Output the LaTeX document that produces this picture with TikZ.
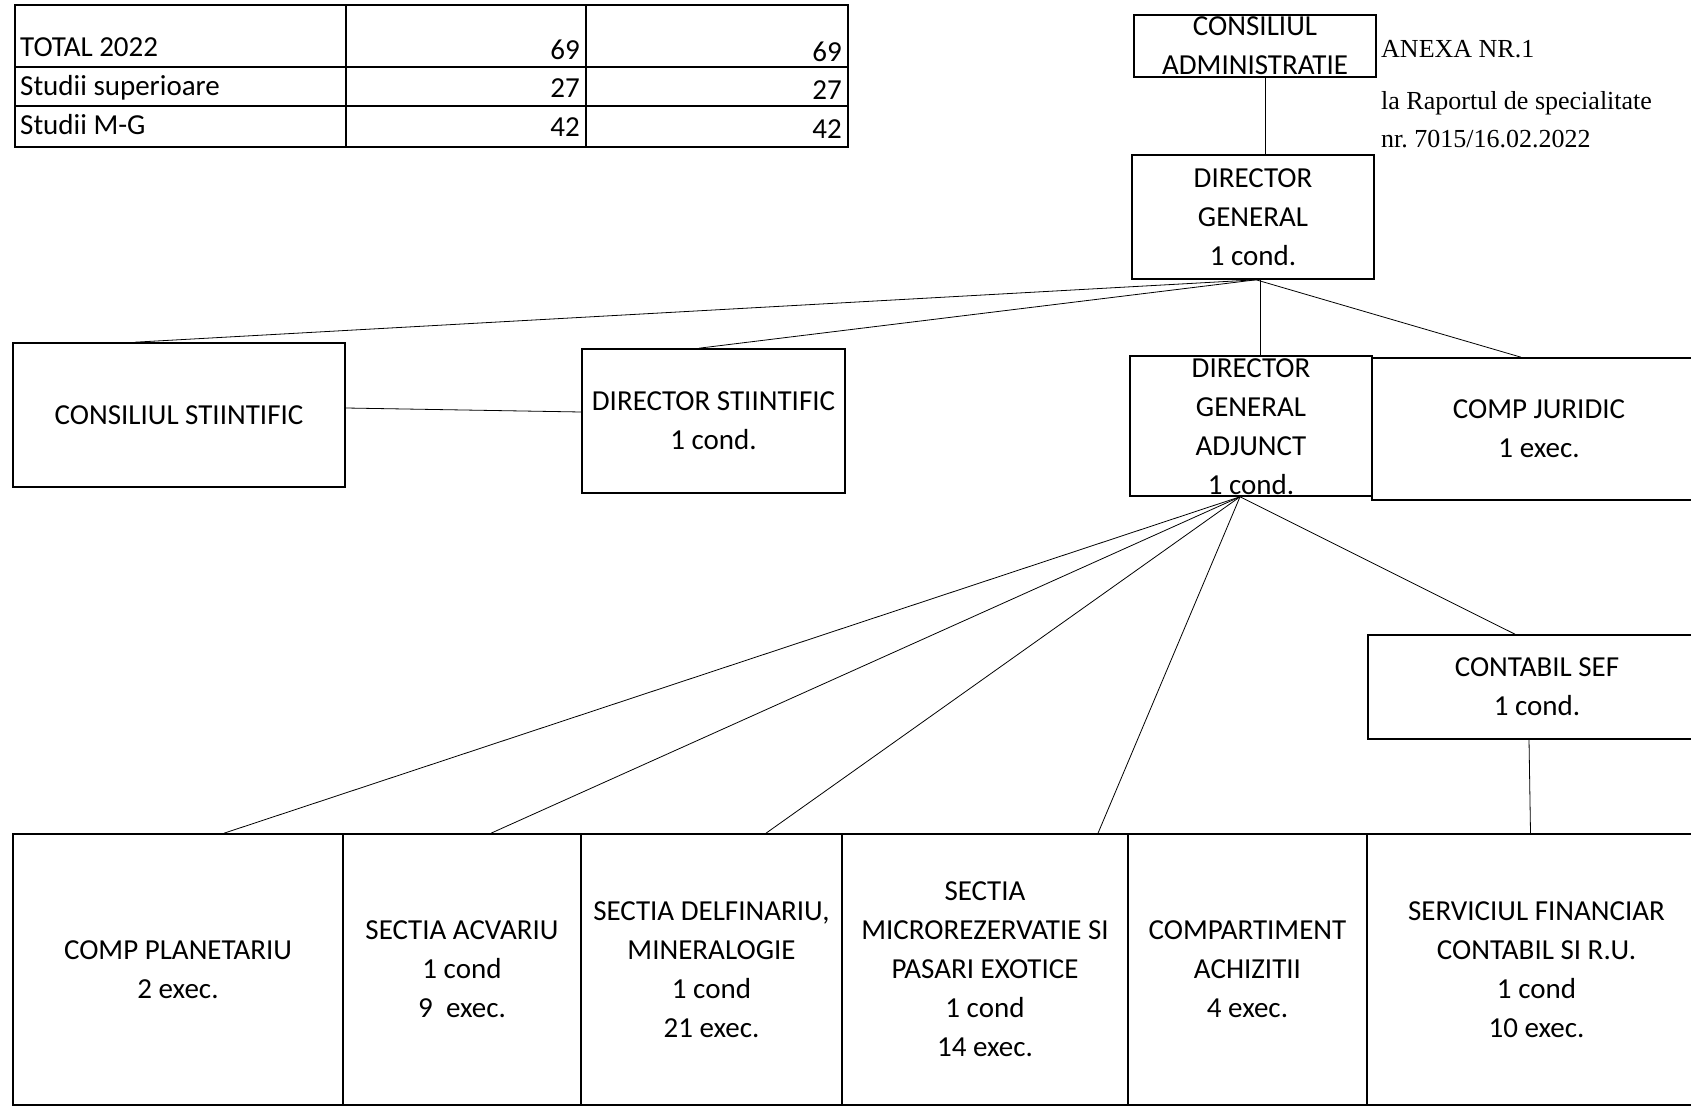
\documentclass[tikz,border=0pt]{standalone}
\usepackage{fontspec}
\setmainfont{Carlito}
\newfontfamily\serifa{Liberation Serif}
\begin{document}
\begin{tikzpicture}[x=1pt,y=-1pt,
  orgbox/.style={draw,line width=1.6pt,align=center,inner sep=0pt,
    font=\fontsize{29}{39}\selectfont},
  conn/.style={line width=0.8pt},
  tline/.style={line width=1.6pt},
  cell/.style={inner sep=0pt,font=\fontsize{29}{39}\selectfont}]
\useasboundingbox (0,0) rectangle (1691,1115);
\clip (0,0) rectangle (1691,1115);
% table
\draw[tline] (15,5) rectangle (848,147);
\draw[tline] (15,67) -- (848,67) (15,106) -- (848,106);
\draw[tline] (346,5) -- (346,147) (586,5) -- (586,147);
\node[cell,anchor=base west] (t1) at (20,57) {TOTAL 2022};
\node[cell,anchor=base west] (t2) at (20,96) {Studii superioare};
\node[cell,anchor=base west] (t3) at (20,135) {Studii M-G};
\node[cell,anchor=base east] (t1a) at (580,60) {69};
\node[cell,anchor=base east] (t1b) at (842,62) {69};
\node[cell,anchor=base east] (t2a) at (580,98) {27};
\node[cell,anchor=base east] (t2b) at (842,100) {27};
\node[cell,anchor=base east] (t3a) at (580,137) {42};
\node[cell,anchor=base east] (t3b) at (842,139) {42};
% annex text
\node[anchor=base west,inner sep=0pt,font=\serifa\fontsize{26}{30}\selectfont] (an1) at (1381,58) {ANEXA NR.1};
\node[anchor=base west,inner sep=0pt,font=\serifa\fontsize{26}{30}\selectfont] (an2) at (1381,110) {la Raportul de specialitate};
\node[anchor=base west,inner sep=0pt,font=\serifa\fontsize{26}{30}\selectfont] (an3) at (1381,148) {nr.\ 7015/16.02.2022};
% boxes
\node[orgbox,minimum width=242pt,minimum height=62pt] (ca) at (1255,46) {CONSILIUL\\ADMINISTRATIE};
\node[orgbox,minimum width=242pt,minimum height=124pt] (dg) at (1253,217) {DIRECTOR\\GENERAL\\1 cond.};
\node[orgbox,minimum width=332pt,minimum height=144pt] (cs) at (179,415) {CONSILIUL STIINTIFIC};
\node[orgbox,minimum width=263pt,minimum height=144pt] (ds) at (713.5,421) {DIRECTOR STIINTIFIC\\1 cond.};
\node[orgbox,minimum width=242pt,minimum height=140pt] (dga) at (1251,426) {};
\node[cell,align=center] (dgat) at (1251,427) {DIRECTOR\\GENERAL\\ADJUNCT\\1 cond.};
\node[orgbox,minimum width=334pt,minimum height=142pt] (cj) at (1539,429) {COMP JURIDIC\\1 exec.};
\node[orgbox,minimum width=338pt,minimum height=104pt] (csef) at (1537,687) {CONTABIL SEF\\1 cond.};
% bottom row
\node[orgbox,minimum width=330pt,minimum height=271pt] (cp) at (178,969.5) {COMP PLANETARIU\\2 exec.};
\node[orgbox,minimum width=238pt,minimum height=271pt] (sa) at (462,969.5) {SECTIA ACVARIU\\1 cond\\9~~exec.};
\node[orgbox,minimum width=261pt,minimum height=271pt] (sd) at (711.5,969.5) {SECTIA DELFINARIU,\\MINERALOGIE\\1 cond\\21 exec.};
\node[orgbox,minimum width=286pt,minimum height=271pt] (sm) at (985,969.5) {SECTIA\\MICROREZERVATIE SI\\PASARI EXOTICE\\1 cond\\14 exec.};
\node[orgbox,minimum width=239pt,minimum height=271pt] (cach) at (1247.5,969.5) {COMPARTIMENT\\ACHIZITII\\4 exec.};
\node[orgbox,minimum width=339pt,minimum height=271pt] (sfc) at (1536.5,969.5) {SERVICIUL FINANCIAR\\CONTABIL SI R.U.\\1 cond\\10 exec.};
% connectors
\draw[conn] ([xshift=10pt]ca.south) -- ([xshift=12pt]dg.north);
\draw[conn] ([xshift=3pt]dg.south) -- ([xshift=-44pt]cs.north);
\draw[conn] ([xshift=3pt]dg.south) -- ([xshift=-14.5pt]ds.north);
\draw[conn] ([xshift=7pt]dg.south) -- ([xshift=9pt]dga.north);
\draw[conn] ([xshift=3pt]dg.south) -- ([xshift=-18pt]cj.north);
\draw[conn] ([yshift=7pt]cs.east) -- ([yshift=9pt]ds.west);
\draw[conn] ([xshift=-11pt]dga.south) -- ([xshift=-22pt]csef.north);
\draw[conn] ([xshift=-11pt]dga.south) -- ([xshift=46pt]cp.north);
\draw[conn] ([xshift=-11pt]dga.south) -- ([xshift=29pt]sa.north);
\draw[conn] ([xshift=-11pt]dga.south) -- ([xshift=54.5pt]sd.north);
\draw[conn] ([xshift=-11pt]dga.south) -- ([xshift=113pt]sm.north);
\draw[conn] ([xshift=-8pt]csef.south) -- ([xshift=-6pt]sfc.north);
\end{tikzpicture}
\end{document}
